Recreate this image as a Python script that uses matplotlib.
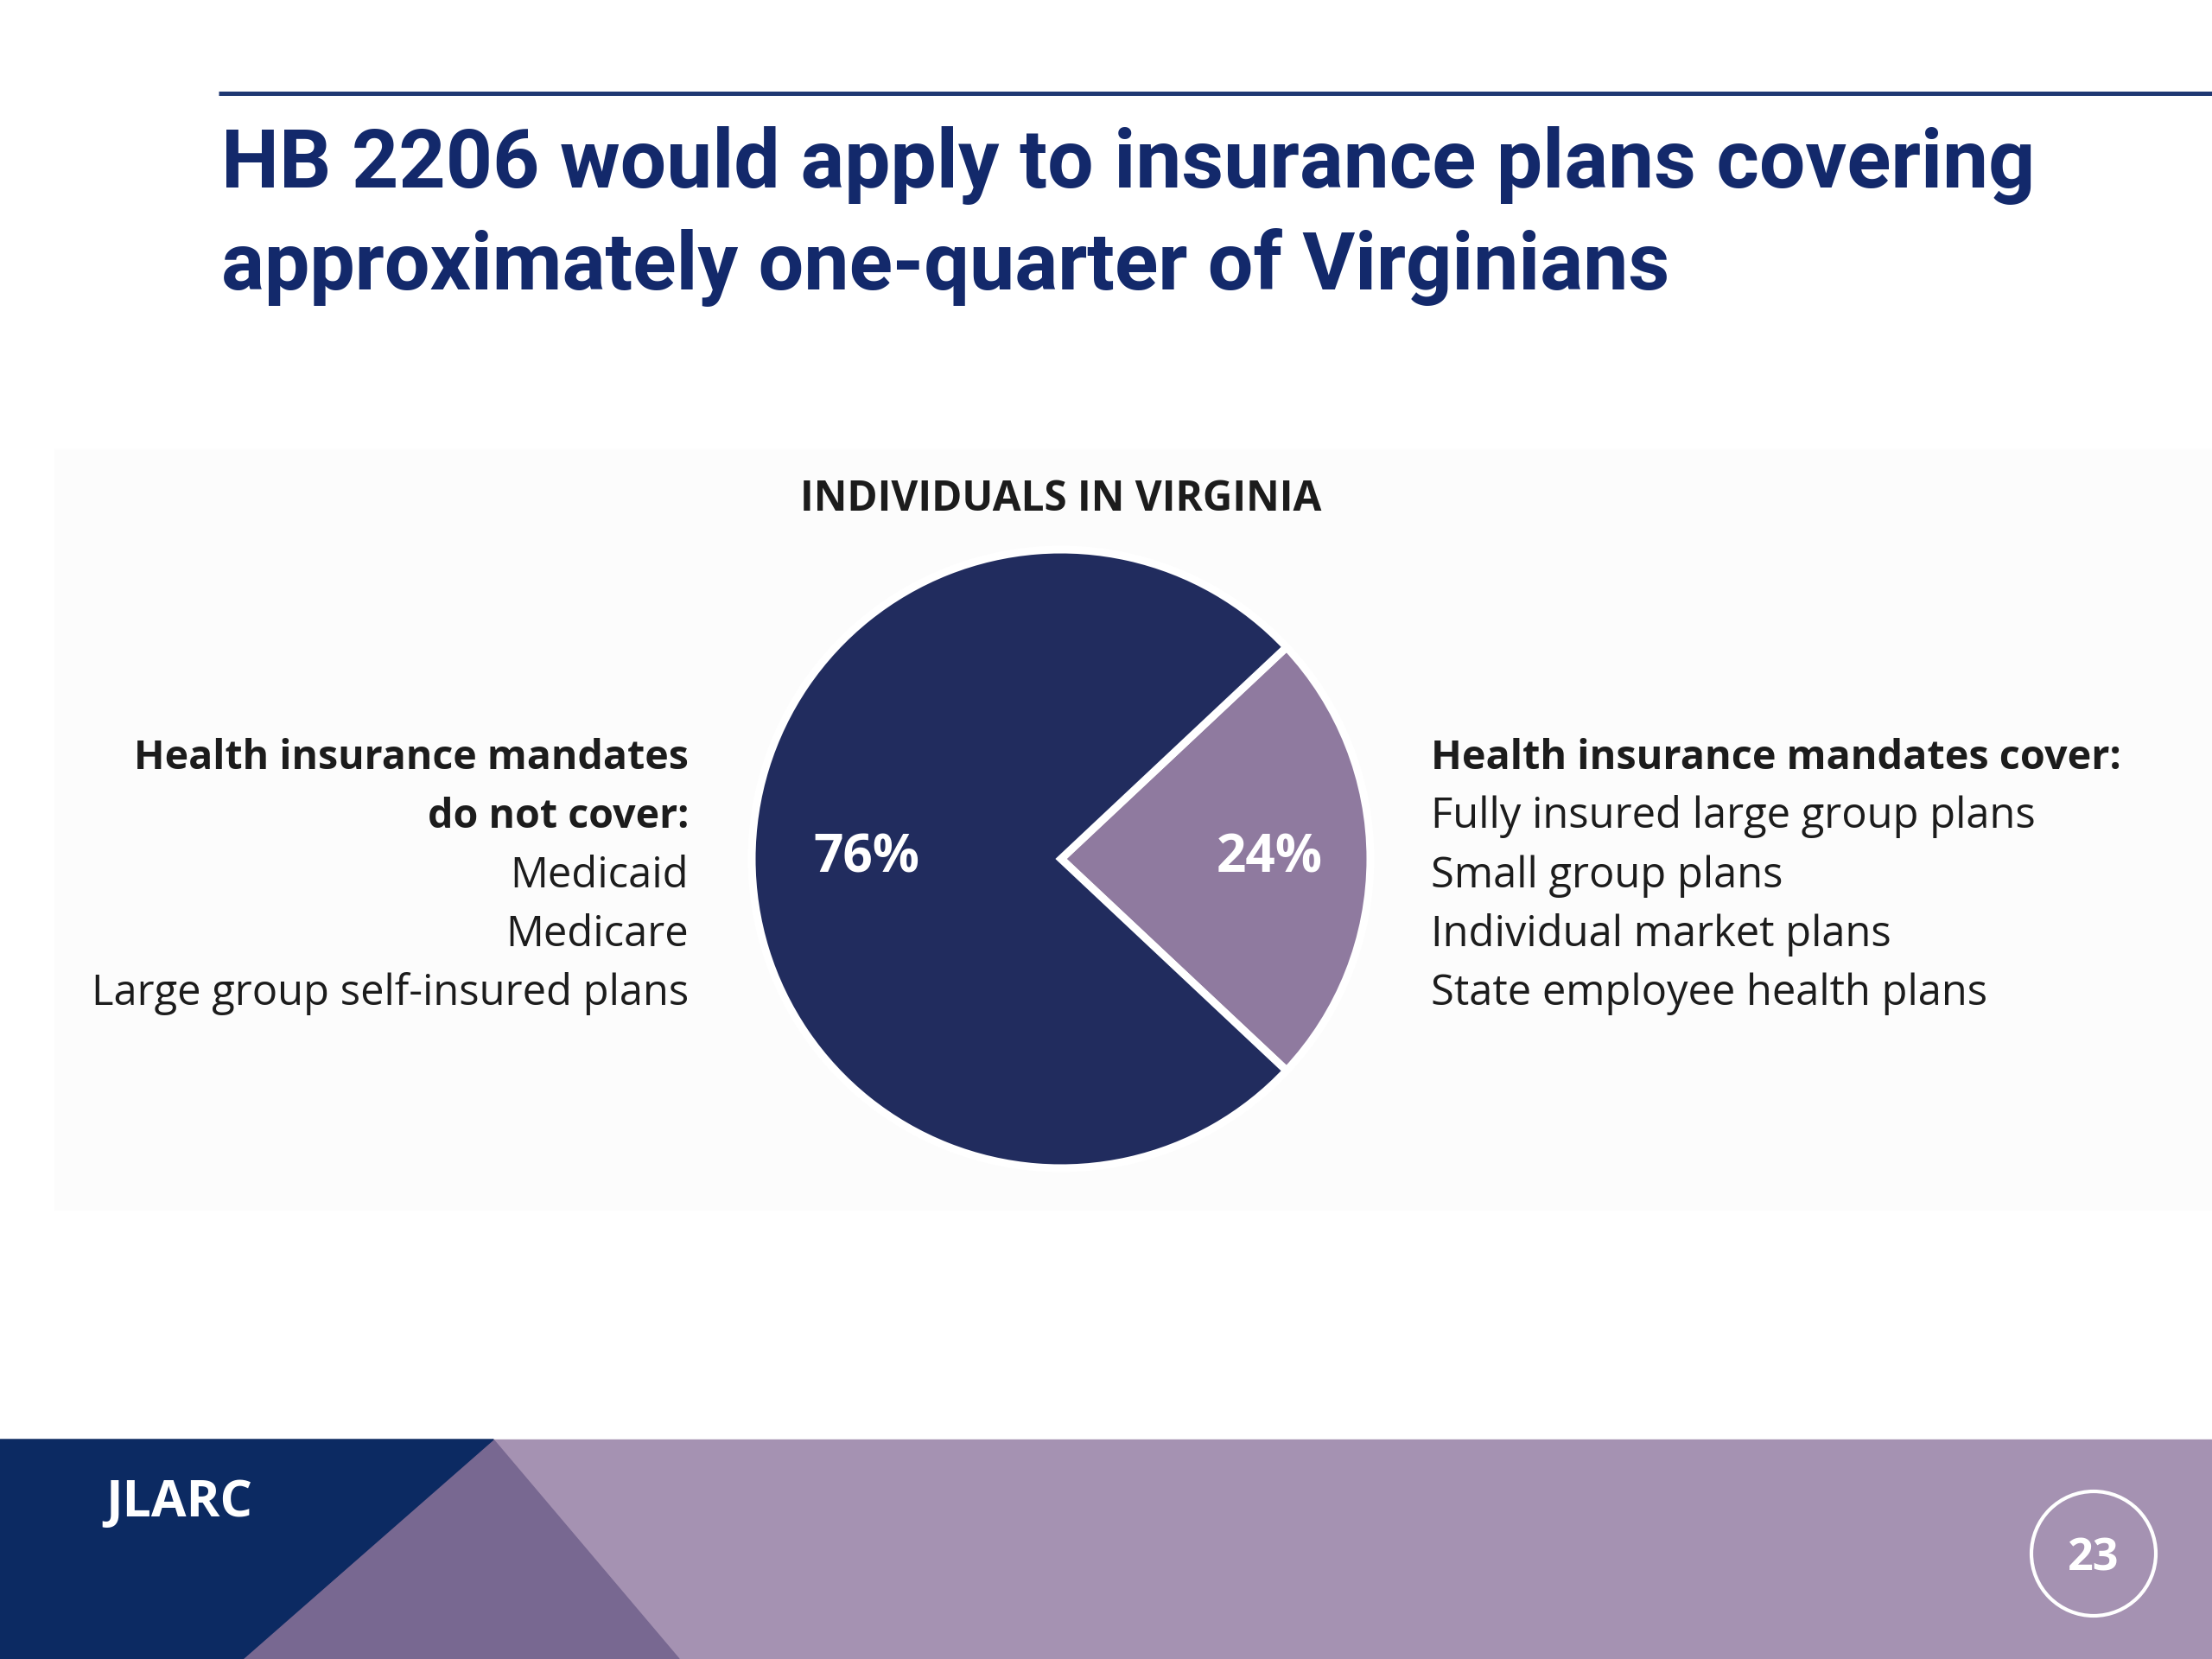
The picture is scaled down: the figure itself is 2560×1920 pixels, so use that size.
import numpy as np
import matplotlib.pyplot as plt
from matplotlib.patches import Polygon, Rectangle, Circle

# data
shares = [24, 76]   # covered by mandates, not covered
slice_colors = ['#8f7a9f', '#212c5e']

title_lines = ['HB 2206 would apply to insurance plans covering',
               'approximately one-quarter of Virginians']
chart_title = 'INDIVIDUALS IN VIRGINIA'

left_head = ['Health insurance mandates', 'do not cover:']
left_items = ['Medicaid', 'Medicare', 'Large group self-insured plans']
right_head = ['Health insurance mandates cover:']
right_items = ['Fully insured large group plans', 'Small group plans',
               'Individual market plans', 'State employee health plans']

page_no = '23'

W, H = 2560, 1920
fig = plt.figure(figsize=(25.6, 19.2), dpi=100)
fig.patch.set_facecolor('white')

# pixel axes for the slide decoration (y runs downward)
ax = fig.add_axes([0, 0, 1, 1])
ax.set_xlim(0, W)
ax.set_ylim(H, 0)
ax.axis('off')

body_font = ['Open Sans', 'DejaVu Sans']
title_font = ['Roboto', 'DejaVu Sans']
navy = '#13296b'
ink = '#1c1c1c'

# faint panel behind the chart
ax.add_patch(Rectangle((63, 520), W - 63, 880, color='#fcfcfc', zorder=0))

# rule and title
ax.plot([253, W], [108, 108], color='#1f3873', lw=3.6, solid_capstyle='butt')
ax.text(256, 217, title_lines[0], fontsize=68.2, fontweight='bold',
        color=navy, family=title_font, va='baseline', ha='left')
ax.text(256, 335, title_lines[1], fontsize=67.2, fontweight='bold',
        color=navy, family=title_font, va='baseline', ha='left')

# chart title
ax.text(1228, 591, chart_title, fontsize=34.3, fontweight='bold', color=ink,
        family=body_font, ha='center', va='baseline')

# side texts
base = 890
step = 68.3
for i, line in enumerate(left_head + left_items):
    bold = i < len(left_head)
    ax.text(797, base + i * step, line, fontsize=33.5 if bold else 35.2,
            color=ink, family=body_font, fontweight='bold' if bold else 'normal',
            ha='right', va='baseline')
for i, line in enumerate(right_head + right_items):
    bold = i < len(right_head)
    ax.text(1656, base + i * step, line, fontsize=33.7 if bold else 35.2,
            color=ink, family=body_font, fontweight='bold' if bold else 'normal',
            ha='left', va='baseline')

# footer band
top = 1666
ax.add_patch(Polygon([(0, top), (W, top), (W, H), (0, H)], color='#a592b2', zorder=1))
ax.add_patch(Polygon([(571, top), (786, H), (281, H)], color='#786891', zorder=2))
ax.add_patch(Polygon([(0, top), (571, top), (281, H), (0, H)], color='#0c2a62', zorder=3))
ax.text(122, 1755, 'JLARC', fontsize=42.5, fontweight='bold', color='white',
        family=body_font, ha='left', va='baseline', zorder=4)
ax.add_patch(Circle((2423, 1798), 72, fill=False, ec='white', lw=3, zorder=4))
ax.text(2423, 1798, page_no, fontsize=37.5, fontweight='bold', color='white',
        family=body_font, ha='center', va='center_baseline', zorder=5)

# pie
cx, cy, r = 1228, 994, 358
pax = fig.add_axes([(cx - r) / W, (H - cy - r) / H, 2 * r / W, 2 * r / H])
wedges, texts, autotexts = pax.pie(
    shares, colors=slice_colors, startangle=-43.2, counterclock=True,
    autopct=lambda p: f'{p:.0f}%', pctdistance=0.65,
    wedgeprops=dict(edgecolor='white', linewidth=6.5))
label_dist = [0.675, 0.63]
for w, t, d in zip(wedges, autotexts, label_dist):
    ang = np.deg2rad((w.theta1 + w.theta2) / 2)
    t.set_position((d * np.cos(ang), d * np.sin(ang)))
    t.set_color('white')
    t.set_fontsize(43.4)
    t.set_fontweight('bold')
    t.set_family(body_font)
pax.set_xlim(-1.0, 1.0)
pax.set_ylim(-1.0, 1.0)
pax.axis('off')

fig.savefig('out.png', dpi=100, facecolor='white')
